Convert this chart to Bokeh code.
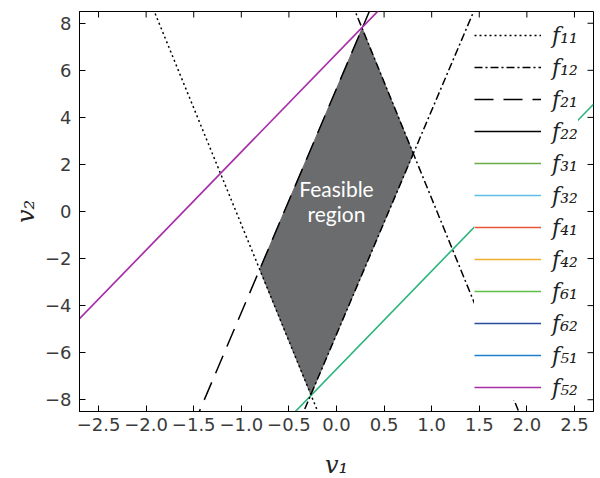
import numpy as np
from bokeh.plotting import figure
from bokeh.models import (Range1d, FixedTicker, Legend, LegendItem,
                          Label, ColumnDataSource)
from bokeh.embed import file_html
from bokeh.resources import INLINE

# ---------------- data ----------------
# legend entries (order as in the reference legend)
legend_names = ["f₁₁", "f₁₂", "f₂₁", "f₂₂", "f₃₁", "f₃₂",
                "f₄₁", "f₄₂", "f₆₁", "f₆₂", "f₅₁", "f₅₂"]
legend_colors = ["black", "black", "black", "black", "#6aab45", "#5bbfe8",
                 "#e8553a", "#efb02e", "#5cbf45", "#2a4b9e", "#1f7fcf", "#a62fa8"]
legend_dashes = ["2 3", "8 3 2 3", "19 10", "solid", "solid", "solid",
                 "solid", "solid", "solid", "solid", "solid", "solid"]

# visible constraint lines  v2 = slope * v1 + intercept
f11_slope, f11_icpt = [-9.9], [-10.45]
f12_slope, f12_icpt = [-9.9, 9.52], [10.45, -5.22]
f21_slope, f21_icpt = [9.52], [5.22]
f52_slope, f52_icpt = [4.17], [6.7]
g_slope, g_icpt = [4.17], [-6.7]     # teal line
g_color = "#2bb47b"

v1_span = [-2.7, 2.7]
v2_span = [-8.5, 8.5]
x_ticks = [-2.5, -2.0, -1.5, -1.0, -0.5, 0.0, 0.5, 1.0, 1.5, 2.0, 2.5]
y_ticks = [-8, -6, -4, -2, 0, 2, 4, 6, 8]


def line_pts(slopes, icpts):
    xs, ys = [], []
    for s, b in zip(slopes, icpts):
        xs.append(list(v1_span))
        ys.append([s * v1_span[0] + b, s * v1_span[1] + b])
    return xs, ys


def intersect(s1, b1, s2, b2):
    x = (b2 - b1) / (s1 - s2)
    return x, s1 * x + b1


# feasible region from the four bounding lines
corners = [
    intersect(f11_slope[0], f11_icpt[0], f21_slope[0], f21_icpt[0]),
    intersect(f21_slope[0], f21_icpt[0], f12_slope[0], f12_icpt[0]),
    intersect(f12_slope[0], f12_icpt[0], f12_slope[1], f12_icpt[1]),
    intersect(f12_slope[1], f12_icpt[1], f11_slope[0], f11_icpt[0]),
]
region_x = [c[0] for c in corners]
region_y = [c[1] for c in corners]

# ---------------- figure ----------------
FONT = "DejaVu Sans"
p = figure(frame_width=514, frame_height=400,
           x_range=Range1d(*v1_span), y_range=Range1d(*v2_span),
           output_backend="svg", toolbar_location=None,
           min_border_left=79, min_border_right=4, min_border_top=11,
           min_border_bottom=64)
p.xgrid.visible = False
p.ygrid.visible = False
p.outline_line_color = "black"
p.outline_line_width = 1

p.patch(region_x, region_y, fill_color="#6b6c6e", line_color="#6b6c6e",
        line_width=1)

# colored lines
gx, gy = line_pts(g_slope, g_icpt)
p.multi_line(gx, gy, line_color=g_color, line_width=1.6)

renderers = {}
data_lines = {
    "f₁₁": (f11_slope, f11_icpt),
    "f₁₂": (f12_slope, f12_icpt),
    "f₂₁": (f21_slope, f21_icpt),
    "f₅₂": (f52_slope, f52_icpt),
}
for name, col, dash in zip(legend_names, legend_colors, legend_dashes):
    if name in data_lines:
        xs, ys = line_pts(*data_lines[name])
    else:
        xs, ys = [[np.nan, np.nan]], [[np.nan, np.nan]]
    src = ColumnDataSource(dict(xs=xs, ys=ys))
    lw = 1.7 if col != "black" else 1.5
    r = p.multi_line("xs", "ys", source=src, line_color=col, line_width=lw,
                     line_dash=dash)
    renderers[name] = r

legend = Legend(items=[LegendItem(label=n, renderers=[renderers[n]])
                       for n in legend_names],
                location=(395, 11), orientation="vertical")
legend.background_fill_color = "white"
legend.background_fill_alpha = 1.0
legend.border_line_color = None
legend.padding = 5
legend.glyph_width = 67
legend.glyph_height = 26
legend.label_height = 26
legend.label_width = 24
legend.spacing = 6
legend.label_standoff = 11
legend.label_text_font = "DejaVu Serif"
legend.label_text_font_style = "italic"
legend.label_text_font_size = "22px"
legend.label_text_color = "#222222"
p.add_layout(legend)

# region text
for txt, yy in [("Feasible", 0.97), ("region", -0.08)]:
    p.add_layout(Label(x=0.0, y=yy, text=txt, text_color="white",
                       text_font="Lato", text_font_size="21px",
                       text_align="center", text_baseline="middle"))

# axes
def minus(v):
    s = ("%.1f" % v) if isinstance(v, float) else str(v)
    return s.replace("-", "−")

for ax in (p.xaxis[0], p.yaxis[0]):
    ax.major_tick_in = 6
    ax.major_tick_out = 0
    ax.minor_tick_line_color = None
    ax.axis_line_color = "black"
    ax.major_label_text_font = FONT
    ax.major_label_text_font_size = "18px"
    ax.major_label_text_color = "#3a3a3a"
    ax.axis_label_text_font = "DejaVu Serif"
    ax.axis_label_text_font_style = "italic"
    ax.axis_label_text_font_size = "24px"
    ax.axis_label_text_color = "#222222"

p.xaxis[0].ticker = FixedTicker(ticks=x_ticks)
p.yaxis[0].ticker = FixedTicker(ticks=y_ticks)
p.xaxis[0].major_label_overrides = {t: minus(t) for t in x_ticks}
p.yaxis[0].major_label_overrides = {t: minus(t) for t in y_ticks}
p.xaxis[0].axis_label = "v₁"
p.yaxis[0].axis_label = "v₂"
p.xaxis[0].major_label_standoff = 6
p.yaxis[0].major_label_standoff = 8
p.xaxis[0].axis_label_standoff = 17
p.yaxis[0].axis_label_standoff = 2

# inward ticks on the top and right edges
p.ray(x=x_ticks, y=v2_span[1], length=6, length_units="screen",
      angle=-np.pi / 2, line_color="black", line_width=1)
p.ray(x=v1_span[1], y=y_ticks, length=6, length_units="screen",
      angle=np.pi, line_color="black", line_width=1)

open("out.html", "w").write(file_html(p, INLINE))
